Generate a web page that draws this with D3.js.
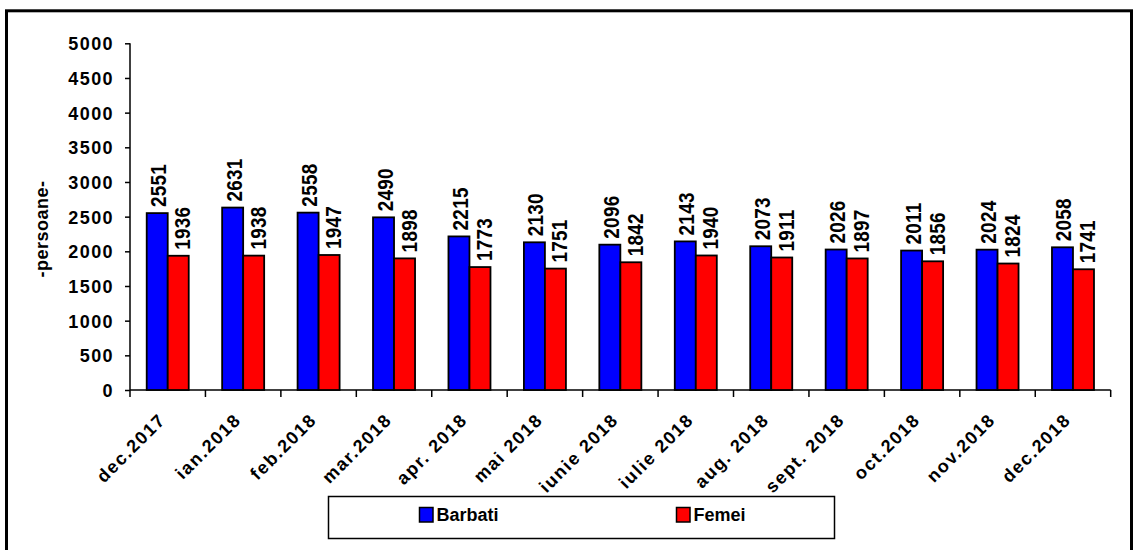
<!DOCTYPE html>
<html><head><meta charset="utf-8">
<script src="https://cdn.jsdelivr.net/npm/d3@7"></script>
<style>
body{margin:0;background:#fff;}
svg{display:block;font-family:Arial,"Liberation Sans",sans-serif;font-weight:bold;}
</style></head>
<body><svg id="c" width="1135" height="550"></svg>
<script>
const categories = ["dec.2017","ian.2018","feb.2018","mar.2018","apr. 2018","mai 2018","iunie 2018","iulie 2018","aug. 2018","sept. 2018","oct.2018","nov.2018","dec.2018"];
const barbati = [2551,2631,2558,2490,2215,2130,2096,2143,2073,2026,2011,2024,2058];
const femei = [1936,1938,1947,1898,1773,1751,1842,1940,1911,1897,1856,1824,1741];
const seriesNames = ["Barbati","Femei"];
const seriesColors = ["#0000ff","#ff0000"];
const yTicks = [0,500,1000,1500,2000,2500,3000,3500,4000,4500,5000];

const svg = d3.select("#c");
// outer frame
svg.append("rect").attr("x",6.5).attr("y",10.8).attr("width",1125).attr("height",600)
  .attr("fill","none").attr("stroke","#000").attr("stroke-width",3);

const x0 = d3.scaleBand().domain(categories).range([130,1110.7]).paddingInner(0.443).paddingOuter(0.2215);
const x1 = d3.scaleBand().domain(seriesNames).range([0,x0.bandwidth()]);
const y = d3.scaleLinear().domain([0,5000]).range([390,43.3]);
const step = x0.step();
const data = categories.map((c,i)=>({cat:c, vals:[barbati[i],femei[i]]}));

// y axis
const yAxis = svg.append("g").attr("transform","translate(130,0)")
  .call(d3.axisLeft(y).tickValues(yTicks).tickSize(5).tickPadding(11).tickFormat(d3.format("d")));
yAxis.select(".domain").attr("stroke","#000").attr("stroke-width",1.5).attr("d","M0,43.3V390");
yAxis.selectAll(".tick line").attr("stroke","#000").attr("stroke-width",1.5);
yAxis.selectAll(".tick text").attr("font-size",18).attr("font-family","Arial,'Liberation Sans',sans-serif")
  .attr("font-weight","bold").attr("fill","#000").style("letter-spacing","1.4px").attr("dy","0.36em");

// x axis line and ticks at category boundaries
const gx = svg.append("g");
gx.append("line").attr("x1",130).attr("x2",x0.range()[1]).attr("y1",y(0)).attr("y2",y(0))
  .attr("stroke","#000").attr("stroke-width",1.5);
d3.range(categories.length+1).forEach(i=>{
  const xx = 130 + i*step;
  gx.append("line").attr("x1",xx).attr("x2",xx).attr("y1",y(0)).attr("y2",y(0)+7)
    .attr("stroke","#000").attr("stroke-width",1.5);
});
// x labels
svg.append("g").selectAll("text").data(categories).join("text")
  .attr("transform",d=>`translate(${x0(d)+x0.bandwidth()/2-1},${y(0)+31}) rotate(-45)`)
  .attr("text-anchor","end").attr("font-size",18).attr("fill","#000")
  .style("letter-spacing","1.6px").text(d=>d);

// bars
const groups = svg.append("g").selectAll("g").data(data).join("g")
  .attr("transform",d=>`translate(${x0(d.cat)},0)`);
groups.selectAll("rect").data(d=>d.vals.map((v,j)=>({v,s:seriesNames[j],c:seriesColors[j]}))).join("rect")
  .attr("x",d=>x1(d.s)).attr("width",x1.bandwidth()).attr("y",d=>y(d.v)).attr("height",d=>y(0)-y(d.v))
  .attr("fill",d=>d.c).attr("stroke","#000").attr("stroke-width",1.8);
const labOff = [1,4];
groups.selectAll("text").data(d=>d.vals.map((v,j)=>({v,s:seriesNames[j],j}))).join("text")
  .attr("transform",d=>`translate(${x1(d.s)+x1.bandwidth()/2+8+labOff[d.j]},${y(d.v)-6}) rotate(-90) scale(0.86,1)`)
  .attr("font-size",22).attr("fill","#000").style("letter-spacing","0.3px").text(d=>d.v);

// y title
svg.append("text").attr("transform","translate(48,229) rotate(-90)").attr("text-anchor","middle")
  .attr("font-size",18).attr("fill","#000").style("letter-spacing","0.5px").text("-persoane-");

// legend
svg.append("rect").attr("x",328.5).attr("y",496.5).attr("width",506).attr("height",42)
  .attr("fill","#fff").attr("stroke","#000").attr("stroke-width",1.5);
const legX = [419.5,676.5];
seriesNames.forEach((s,i)=>{
  svg.append("rect").attr("x",legX[i]).attr("y",507.5).attr("width",13.5).attr("height",14.5)
    .attr("fill",seriesColors[i]).attr("stroke","#000").attr("stroke-width",1.5);
  svg.append("text").attr("x",legX[i]+17).attr("y",521).attr("font-size",18).attr("fill","#000").text(s);
});
</script></body></html>
